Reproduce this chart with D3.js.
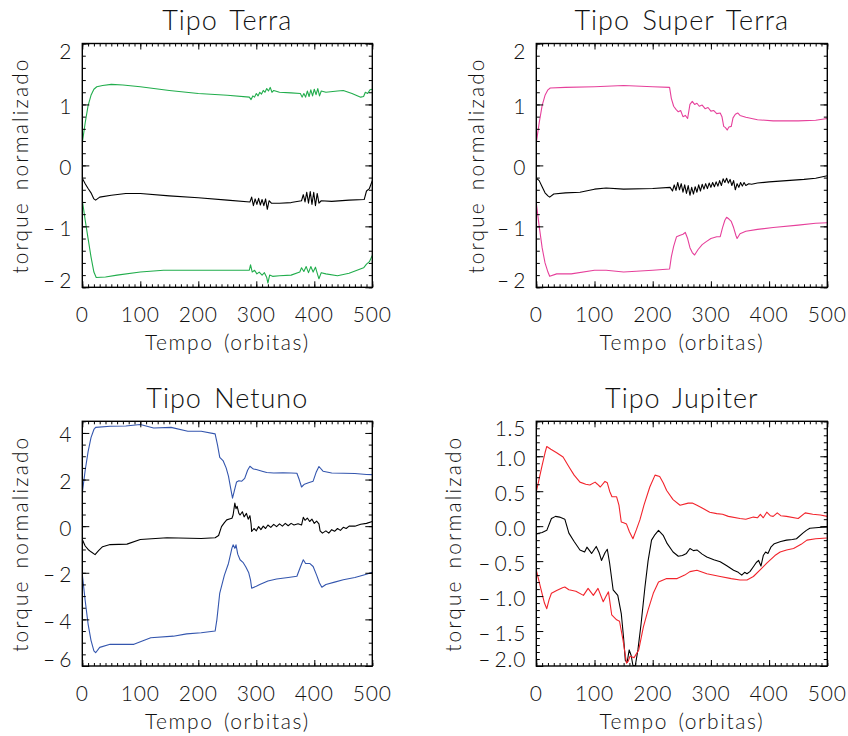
<!DOCTYPE html>
<html>
<head>
<meta charset="utf-8">
<script src="https://cdn.jsdelivr.net/npm/d3@7"></script>
<style>
body { margin: 0; background: #fff; }
text { font-family: "Lato", "Liberation Sans", Arial, sans-serif; font-weight: 300; fill: #111; }
</style>
</head>
<body>
<svg id="vis"></svg>
<script>
// ---- data: [orbita, torque] ----
var terraUpper = [[0,0.37],[5,0.7],[10,0.98],[15,1.15],[20,1.25],[25,1.29],[35,1.31],[50,1.33],[70,1.32],[100,1.29],[150,1.23],[200,1.18],[250,1.15],[288,1.12],[291,1.08],[294,1.14],[297,1.12],[300,1.18],[303,1.14],[306,1.2],[309,1.17],[312,1.23],[315,1.2],[318,1.26],[321,1.22],[324,1.28],[327,1.2],[330,1.23],[340,1.2],[360,1.19],[376,1.18],[379,1.12],[382,1.18],[385,1.12],[388,1.22],[391,1.13],[394,1.24],[397,1.14],[400,1.25],[403,1.16],[406,1.26],[409,1.14],[412,1.22],[420,1.2],[440,1.22],[450,1.23],[465,1.18],[480,1.12],[485,1.13],[488,1.2],[492,1.18],[496,1.24],[500,1.25]];
var terraMid = [[0,-0.21],[5,-0.3],[10,-0.38],[15,-0.45],[20,-0.55],[23,-0.57],[30,-0.52],[50,-0.49],[75,-0.46],[100,-0.46],[150,-0.5],[200,-0.53],[250,-0.57],[289,-0.6],[292,-0.52],[295,-0.66],[298,-0.55],[301,-0.64],[304,-0.54],[307,-0.65],[310,-0.56],[313,-0.66],[316,-0.55],[319,-0.72],[322,-0.58],[326,-0.62],[340,-0.62],[360,-0.61],[378,-0.58],[381,-0.48],[384,-0.6],[387,-0.44],[390,-0.62],[393,-0.43],[396,-0.64],[399,-0.44],[402,-0.66],[405,-0.46],[408,-0.62],[412,-0.58],[430,-0.59],[460,-0.57],[486,-0.56],[490,-0.42],[495,-0.38],[500,-0.25]];
var terraLower = [[0,-0.57],[5,-0.9],[10,-1.2],[15,-1.5],[20,-1.75],[24,-1.84],[40,-1.83],[60,-1.8],[100,-1.75],[140,-1.72],[200,-1.72],[250,-1.72],[288,-1.72],[290,-1.63],[293,-1.75],[297,-1.72],[301,-1.78],[305,-1.75],[310,-1.8],[314,-1.76],[318,-1.84],[320,-1.93],[323,-1.8],[328,-1.82],[340,-1.81],[360,-1.8],[375,-1.75],[378,-1.68],[382,-1.74],[386,-1.66],[390,-1.76],[394,-1.66],[398,-1.75],[402,-1.67],[406,-1.8],[408,-1.86],[412,-1.76],[420,-1.78],[440,-1.81],[460,-1.77],[485,-1.68],[490,-1.62],[495,-1.58],[500,-1.48]];

var superUpper = [[0,0.37],[5,0.7],[10,0.98],[15,1.15],[20,1.24],[24,1.27],[50,1.28],[100,1.29],[150,1.31],[200,1.29],[229,1.28],[232,1.1],[236,0.97],[240,0.92],[244,0.88],[248,0.9],[252,0.8],[256,0.82],[260,0.77],[264,1.0],[268,1.05],[272,1.0],[276,1.02],[280,0.97],[285,0.99],[290,0.93],[295,0.95],[300,0.89],[305,0.9],[310,0.85],[316,0.86],[319,0.8],[322,0.64],[325,0.62],[328,0.58],[331,0.63],[335,0.64],[338,0.78],[342,0.84],[346,0.86],[350,0.82],[360,0.79],[380,0.75],[407,0.73],[450,0.73],[480,0.74],[500,0.77]];
var superMid = [[0,-0.21],[5,-0.25],[10,-0.35],[15,-0.45],[20,-0.5],[23,-0.52],[30,-0.47],[50,-0.45],[75,-0.44],[100,-0.39],[120,-0.37],[150,-0.39],[200,-0.38],[230,-0.36],[234,-0.42],[237,-0.32],[240,-0.41],[243,-0.28],[246,-0.4],[249,-0.3],[252,-0.44],[255,-0.32],[258,-0.46],[261,-0.33],[264,-0.49],[267,-0.36],[270,-0.47],[273,-0.35],[276,-0.44],[279,-0.32],[282,-0.42],[285,-0.31],[288,-0.39],[291,-0.3],[294,-0.38],[297,-0.29],[300,-0.36],[303,-0.28],[306,-0.35],[309,-0.27],[312,-0.34],[315,-0.25],[318,-0.33],[321,-0.22],[324,-0.28],[327,-0.21],[330,-0.29],[333,-0.23],[336,-0.33],[339,-0.25],[342,-0.4],[345,-0.3],[348,-0.36],[351,-0.28],[354,-0.34],[357,-0.28],[360,-0.33],[365,-0.3],[370,-0.31],[380,-0.29],[400,-0.27],[430,-0.25],[460,-0.23],[480,-0.21],[500,-0.17]];
var superLower = [[0,-0.62],[5,-1.0],[10,-1.35],[15,-1.6],[20,-1.75],[23,-1.82],[35,-1.78],[60,-1.78],[100,-1.72],[120,-1.72],[150,-1.75],[200,-1.72],[229,-1.7],[232,-1.5],[236,-1.33],[241,-1.17],[246,-1.15],[252,-1.13],[256,-1.1],[260,-1.2],[264,-1.35],[268,-1.43],[272,-1.47],[278,-1.38],[285,-1.3],[292,-1.25],[300,-1.2],[310,-1.17],[316,-1.17],[320,-1.02],[324,-0.9],[327,-0.85],[331,-0.88],[335,-0.92],[339,-1.02],[343,-1.15],[345,-1.2],[350,-1.12],[360,-1.08],[380,-1.05],[407,-1.02],[450,-0.98],[480,-0.95],[500,-0.94]];

var netunoUpper = [[0,1.43],[5,2.4],[10,3.2],[15,3.8],[20,4.15],[23,4.24],[48,4.29],[75,4.3],[100,4.36],[123,4.21],[153,4.24],[182,4.07],[205,4.07],[229,3.96],[233,3.5],[237,2.95],[243,2.8],[248,2.5],[252,2.15],[256,1.6],[259,1.2],[262,1.5],[266,1.9],[270,1.95],[275,1.93],[280,2.05],[285,2.4],[289,2.57],[295,2.45],[300,2.43],[310,2.36],[318,2.3],[330,2.28],[346,2.29],[360,2.28],[370,2.27],[374,2.0],[378,1.68],[383,1.8],[390,1.86],[398,1.93],[403,2.3],[408,2.56],[415,2.36],[430,2.28],[450,2.27],[470,2.26],[490,2.22],[500,2.21]];
var netunoMid = [[0,-0.57],[5,-0.85],[10,-1.0],[15,-1.1],[22,-1.22],[28,-1.05],[35,-0.88],[48,-0.79],[77,-0.77],[100,-0.57],[146,-0.5],[205,-0.53],[229,-0.5],[235,-0.4],[240,-0.02],[245,0.15],[249,0.27],[255,0.32],[258,0.34],[260,0.48],[263,0.99],[265,0.75],[267,0.85],[270,0.55],[272,0.48],[276,0.62],[279,0.4],[283,0.55],[286,0.3],[289,0.45],[291,0.1],[292,-0.23],[296,-0.1],[300,-0.2],[304,-0.02],[308,-0.15],[312,0.0],[316,-0.1],[320,0.05],[325,-0.05],[330,0.08],[335,-0.02],[340,0.1],[345,0.0],[350,0.12],[355,0.02],[360,0.12],[365,0.05],[372,0.1],[378,0.05],[381,0.38],[384,0.25],[388,0.35],[392,0.2],[396,0.3],[400,0.12],[404,0.22],[408,0.1],[410,-0.2],[414,-0.3],[420,-0.2],[425,-0.3],[430,-0.15],[435,-0.22],[440,-0.1],[445,-0.18],[450,-0.05],[455,-0.1],[460,0.0],[470,0.0],[480,0.08],[490,0.12],[500,0.2]];
var netunoLower = [[0,-2.07],[5,-3.2],[10,-4.2],[15,-4.9],[20,-5.35],[23,-5.43],[30,-5.2],[48,-5.07],[89,-5.07],[118,-4.79],[157,-4.72],[180,-4.62],[205,-4.57],[229,-4.5],[232,-4.02],[237,-2.87],[245,-2.1],[252,-1.6],[258,-0.94],[260,-0.8],[263,-0.95],[265,-0.8],[268,-1.2],[272,-1.44],[277,-1.55],[282,-1.75],[287,-2.0],[290,-2.3],[292,-2.66],[300,-2.58],[306,-2.5],[320,-2.35],[335,-2.27],[355,-2.2],[370,-2.15],[376,-1.75],[381,-1.44],[385,-1.6],[392,-1.6],[398,-1.73],[404,-2.1],[409,-2.44],[413,-2.62],[420,-2.5],[435,-2.4],[450,-2.3],[470,-2.2],[490,-2.06],[500,-1.98]];

var jupiterUpper = [[0,0.49],[5,0.68],[10,0.87],[15,1.05],[18,1.14],[25,1.1],[35,1.05],[46,0.99],[56,0.85],[65,0.73],[75,0.63],[85,0.6],[92,0.59],[101,0.63],[105,0.6],[110,0.56],[118,0.64],[122,0.62],[126,0.5],[130,0.42],[138,0.42],[142,0.3],[146,0.06],[150,0.05],[155,0.03],[160,-0.08],[166,-0.18],[172,-0.05],[178,0.09],[185,0.3],[195,0.56],[204,0.73],[212,0.71],[218,0.62],[224,0.51],[235,0.38],[247,0.3],[261,0.33],[268,0.33],[276,0.3],[285,0.26],[298,0.2],[310,0.18],[320,0.17],[330,0.14],[350,0.11],[360,0.1],[373,0.13],[380,0.12],[385,0.17],[390,0.12],[396,0.2],[402,0.15],[407,0.14],[414,0.19],[420,0.15],[430,0.14],[450,0.11],[462,0.19],[475,0.17],[488,0.16],[500,0.14]];
var jupiterMid = [[0,-0.11],[10,-0.09],[18,-0.06],[26,0.11],[33,0.14],[40,0.13],[49,0.1],[56,-0.1],[65,-0.22],[75,-0.34],[83,-0.37],[87,-0.3],[95,-0.39],[103,-0.29],[108,-0.38],[112,-0.49],[118,-0.38],[122,-0.33],[126,-0.53],[132,-0.91],[140,-0.99],[146,-1.25],[150,-1.6],[153,-1.92],[156,-1.95],[159.6,-1.77],[163,-1.85],[166,-1.99],[170,-2.0],[174.6,-1.77],[180,-1.4],[186.7,-0.87],[192,-0.5],[198,-0.2],[204,-0.12],[210,-0.06],[218,-0.13],[225,-0.25],[235,-0.37],[244,-0.43],[251,-0.42],[258,-0.39],[264,-0.32],[270,-0.35],[276,-0.34],[285,-0.4],[293,-0.44],[305,-0.48],[316,-0.51],[328,-0.57],[339,-0.63],[347,-0.66],[353,-0.7],[358,-0.66],[362,-0.68],[367,-0.65],[373,-0.58],[378,-0.52],[382,-0.49],[386,-0.57],[390,-0.42],[394,-0.37],[398,-0.39],[403,-0.3],[409,-0.25],[420,-0.22],[430,-0.2],[440,-0.19],[447,-0.18],[458,-0.1],[464,-0.06],[470,-0.03],[485,-0.02],[500,-0.01]];
var jupiterLower = [[0,-0.63],[8,-0.9],[14,-1.1],[18,-1.18],[22,-1.05],[26,-0.96],[35,-0.92],[45,-0.88],[49,-0.87],[56,-0.91],[68,-0.93],[81,-0.99],[89,-0.89],[98,-0.99],[106,-0.89],[115,-1.08],[120,-1.0],[124,-0.94],[129.6,-1.27],[138,-1.34],[143,-1.36],[149,-1.63],[155,-1.96],[158,-1.93],[161,-1.86],[168,-1.88],[176,-1.77],[184,-1.44],[192,-1.2],[201,-0.96],[210,-0.8],[224,-0.75],[242,-0.75],[255,-0.7],[264,-0.65],[276,-0.63],[293,-0.68],[316,-0.72],[335,-0.75],[350,-0.77],[362,-0.77],[373,-0.72],[385,-0.62],[396,-0.53],[410,-0.42],[419,-0.37],[430,-0.34],[442,-0.32],[455,-0.26],[465,-0.2],[480,-0.18],[499,-0.17]];

// tick labels
var xTicks = [0, 100, 200, 300, 400, 500];
var yTicksTerra = [-2, -1, 0, 1, 2];
var yTicksNetuno = [-6, -4, -2, 0, 2, 4];
var yTicksJupiter = [-2.0, -1.5, -1.0, -0.5, 0.0, 0.5, 1.0, 1.5];

var titles = ["Tipo Terra", "Tipo Super Terra", "Tipo Netuno", "Tipo Jupiter"];
var xTitle = "Tempo (orbitas)";
var yTitle = "torque normalizado";

// ---- layout ----
var W = 848, H = 736;
var svg = d3.select("svg#vis").attr("width", W).attr("height", H);
svg.append("rect").attr("width", W).attr("height", H).attr("fill", "#fff");

// long minus with a gap, as in the original plot
function idlFormat(spec) {
	var f = d3.format(spec);
	return function(v) {
		var s = f(Math.abs(v) < 1e-9 ? 0 : Math.abs(v));
		return v < -1e-9 ? "\u2013\u2009" + s : s;
	};
}

var panels = [
	{title: titles[0], left: 82.3, top: 43.5, right: 372.3, bottom: 287.3, yDomain: [-2, 2], yTicks: yTicksTerra, yMinor: 0.2, fmt: idlFormat("d"), color: "#21ad4c", ylabX: 28, series: [terraUpper, terraMid, terraLower]},
	{title: titles[1], left: 536.3, top: 43.5, right: 827.3, bottom: 287.3, yDomain: [-2, 2], yTicks: yTicksTerra, yMinor: 0.2, fmt: idlFormat("d"), color: "#e6409b", ylabX: 484, series: [superUpper, superMid, superLower]},
	{title: titles[2], left: 82.3, top: 421.3, right: 372.3, bottom: 666, yDomain: [-6, 4.5], yTicks: yTicksNetuno, yMinor: 0.5, fmt: idlFormat("d"), color: "#3456ae", ylabX: 28, series: [netunoUpper, netunoMid, netunoLower]},
	{title: titles[3], left: 536.3, top: 421.3, right: 827.3, bottom: 666, yDomain: [-2, 1.5], yTicks: yTicksJupiter, yMinor: 0.1, fmt: idlFormat(".1f"), color: "#f2242c", ylabX: 461, series: [jupiterUpper, jupiterMid, jupiterLower]}
];

panels.forEach(function(p, i) {
	var x = d3.scaleLinear().domain([0, 500]).range([p.left, p.right]);
	var y = d3.scaleLinear().domain(p.yDomain).range([p.bottom, p.top]);
	var g = svg.append("g").attr("class", "panel");

	var xMinor = d3.range(0, 500.001, 10);
	var yMinor = d3.range(p.yDomain[0], p.yDomain[1] + 1e-6, p.yMinor).map(function(v) {return +v.toFixed(3)});

	// clip
	svg.append("clipPath").attr("id", "clip" + i)
		.append("rect").attr("x", p.left).attr("y", p.top)
		.attr("width", p.right - p.left).attr("height", p.bottom - p.top);

	// lines
	var line = d3.line().x(function(d) {return x(d[0])}).y(function(d) {return y(d[1])});
	var lines = g.append("g").attr("clip-path", "url(#clip" + i + ")");
	p.series.forEach(function(s, k) {
		lines.append("path").datum(s)
			.attr("d", line)
			.attr("fill", "none")
			.attr("stroke", k === 1 ? "#000" : p.color)
			.attr("stroke-width", 1.1)
			.attr("stroke-linejoin", "round");
	});

	// ticks on all four sides, pointing inward
	function ticks(axis, vals, size, tr) {
		var a = g.append("g").attr("transform", tr)
			.call(axis.tickValues(vals).tickSize(-size).tickFormat(""));
		a.select(".domain").remove();
		a.selectAll("line").attr("stroke", "#000").attr("stroke-width", 1);
	}
	ticks(d3.axisBottom(x), xMinor, 3, "translate(0," + p.bottom + ")");
	ticks(d3.axisBottom(x), xTicks, 6, "translate(0," + p.bottom + ")");
	ticks(d3.axisTop(x), xMinor, 3, "translate(0," + p.top + ")");
	ticks(d3.axisTop(x), xTicks, 6, "translate(0," + p.top + ")");
	ticks(d3.axisLeft(y), yMinor, 3.5, "translate(" + p.left + ",0)");
	ticks(d3.axisLeft(y), p.yTicks, 7, "translate(" + p.left + ",0)");
	ticks(d3.axisRight(y), yMinor, 3.5, "translate(" + p.right + ",0)");
	ticks(d3.axisRight(y), p.yTicks, 7, "translate(" + p.right + ",0)");

	// frame
	g.append("rect")
		.attr("x", p.left).attr("y", p.top)
		.attr("width", p.right - p.left).attr("height", p.bottom - p.top)
		.attr("fill", "none").attr("stroke", "#000").attr("stroke-width", 1.4);

	// x tick labels
	g.selectAll("text.xt").data(xTicks).enter().append("text")
		.attr("class", "xt")
		.attr("x", function(d) {return x(d)})
		.attr("y", p.bottom + 35)
		.style("text-anchor", "middle")
		.style("font-size", "21px")
		.style("letter-spacing", "0.8px")
		.text(function(d) {return d});

	// y tick labels, kept inside the frame height at the ends
	g.selectAll("text.yt").data(p.yTicks).enter().append("text")
		.attr("class", "yt")
		.attr("x", p.left - 10)
		.attr("y", function(d) {
			var c = Math.max(p.top + 7.5, Math.min(p.bottom - 6.5, y(d) + 2));
			return c + 7.5;
		})
		.style("text-anchor", "end")
		.style("font-size", "21px")
		.style("letter-spacing", "0.8px")
		.text(function(d) {return p.fmt(d)});

	// titles
	g.append("text")
		.attr("x", (p.left + p.right) / 2)
		.attr("y", p.top - 13.5)
		.style("text-anchor", "middle")
		.style("font-size", "27px")
		.style("letter-spacing", "1px")
		.style("word-spacing", "4px")
		.text(p.title);

	g.append("text")
		.attr("x", (p.left + p.right) / 2)
		.attr("y", p.bottom + 63)
		.style("text-anchor", "middle")
		.style("font-size", "21px")
		.style("letter-spacing", "1.6px")
		.style("word-spacing", "3px")
		.text(xTitle);

	g.append("text")
		.attr("transform", "translate(" + p.ylabX + "," + ((p.top + p.bottom) / 2) + ") rotate(-90)")
		.style("text-anchor", "middle")
		.style("font-size", "21px")
		.style("letter-spacing", "2.1px")
		.style("word-spacing", "3px")
		.text(yTitle);
});
</script>
</body>
</html>
